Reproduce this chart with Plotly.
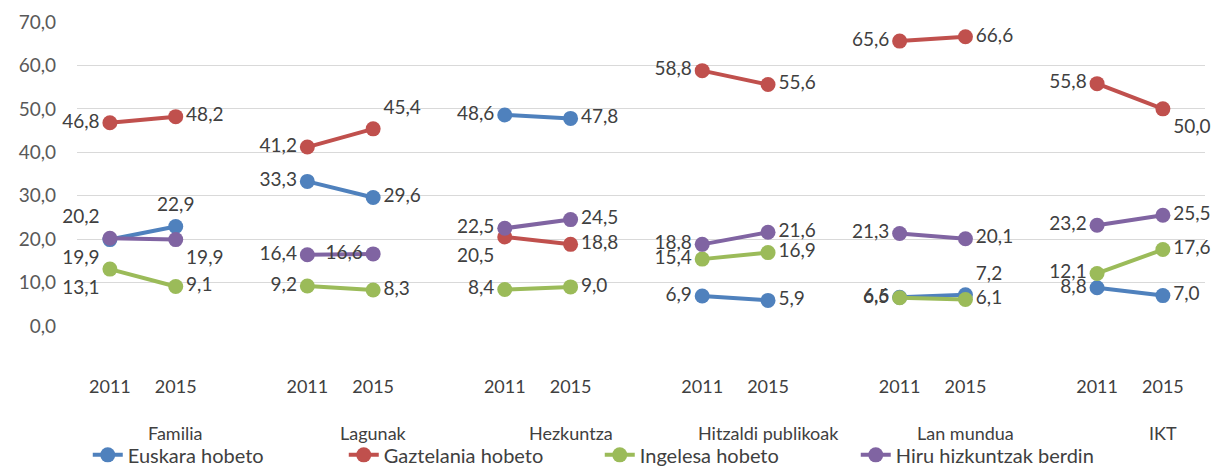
import plotly.graph_objects as go

groups = ["Familia", "Lagunak", "Hezkuntza", "Hitzaldi publikoak", "Lan mundua", "IKT"]
years = ["2011", "2015"]

euskara = [19.9, 22.9, 33.3, 29.6, 48.6, 47.8, 6.9, 5.9, 6.6, 7.2, 8.8, 7.0]
gaztelania = [46.8, 48.2, 41.2, 45.4, 20.5, 18.8, 58.8, 55.6, 65.6, 66.6, 55.8, 50.0]
ingelesa = [13.1, 9.1, 9.2, 8.3, 8.4, 9.0, 15.4, 16.9, 6.5, 6.1, 12.1, 17.6]
hiru = [20.2, 19.9, 16.4, 16.6, 22.5, 24.5, 18.8, 21.6, 21.3, 20.1, 23.2, 25.5]

series = [
    ("Euskara hobeto", euskara, "#4F81BD"),
    ("Gaztelania hobeto", gaztelania, "#C0504D"),
    ("Ingelesa hobeto", ingelesa, "#9BBB59"),
    ("Hiru hizkuntzak berdin", hiru, "#8064A2"),
]

# label position overrides (series, group index, year index)
overrides = {
    ("Euskara hobeto", 0, 0): "bottom left",
    ("Euskara hobeto", 0, 1): "top center",
    ("Hiru hizkuntzak berdin", 0, 0): "top left",
    ("Hiru hizkuntzak berdin", 0, 1): "bottom right",
    ("Ingelesa hobeto", 0, 0): "bottom left",
    ("Gaztelania hobeto", 1, 1): "top right",
    ("Hiru hizkuntzak berdin", 1, 1): "middle left",
    ("Gaztelania hobeto", 2, 0): "bottom left",
    ("Euskara hobeto", 4, 1): "top right",
    ("Gaztelania hobeto", 5, 1): "bottom right",
}

fig = go.Figure()
for name, vals, color in series:
    xs, ys, txt, pos = [], [], [], []
    i = 0
    for g, grp in enumerate(groups):
        for k, yr in enumerate(years):
            xs.append(g * 3 + k)
            ys.append(vals[i])
            txt.append(f"{vals[i]:.1f}".replace(".", ","))
            default = "middle left" if k == 0 else "middle right"
            pos.append(overrides.get((name, g, k), default))
            i += 1
        xs.append(None)
        ys.append(None)
        txt.append("")
        pos.append("middle right")
    fig.add_trace(go.Scatter(
        x=xs, y=ys, name=name, mode="lines+markers+text",
        text=txt, textposition=pos,
        textfont=dict(family="Lato", size=19, color="#404040"),
        line=dict(color=color, width=4),
        marker=dict(color=color, size=15),
        connectgaps=False, cliponaxis=False,
    ))

tickvals = []
ticktext = []
for g, grp in enumerate(groups):
    for k, yr in enumerate(years):
        tickvals.append(g * 3 + k)
        ticktext.append(yr)

for g, grp in enumerate(groups):
    fig.add_annotation(x=g * 3 + 1, y=-0.352, xref="x", yref="paper",
                       text=grp, showarrow=False, yanchor="middle",
                       font=dict(family="Lato", size=18, color="#404040"))

fig.update_layout(
    width=1219, height=467,
    margin=dict(l=77, r=14, t=22, b=141, autoexpand=False),
    paper_bgcolor="white", plot_bgcolor="white",
    separators=", ",
    font=dict(family="Lato", size=18, color="#595959"),
    showlegend=True,
    legend=dict(orientation="h", x=0.072, xref="container", xanchor="left",
                y=0.026, yref="container", yanchor="middle",
                entrywidth=211, entrywidthmode="pixels",
                font=dict(family="Lato", size=20, color="#404040")),
    xaxis=dict(range=[-0.5, 16.64], tickvals=tickvals, ticktext=ticktext,
               showgrid=False, zeroline=False, showline=False, automargin=False,
               ticks="outside", ticklen=44, tickcolor="rgba(0,0,0,0)",
               tickfont=dict(family="Lato", size=18, color="#404040")),
    yaxis=dict(range=[0, 70], dtick=10, tickformat=".1f", automargin=False,
               showgrid=True, gridcolor="#D9D9D9", gridwidth=1.3,
               zeroline=False, showline=False, ticklabelstandoff=20,
               tickfont=dict(family="Lato", size=19, color="#595959")),
)

fig.write_html("out.html", config={"displayModeBar": False},
               post_script="document.body.style.margin='0px';")
